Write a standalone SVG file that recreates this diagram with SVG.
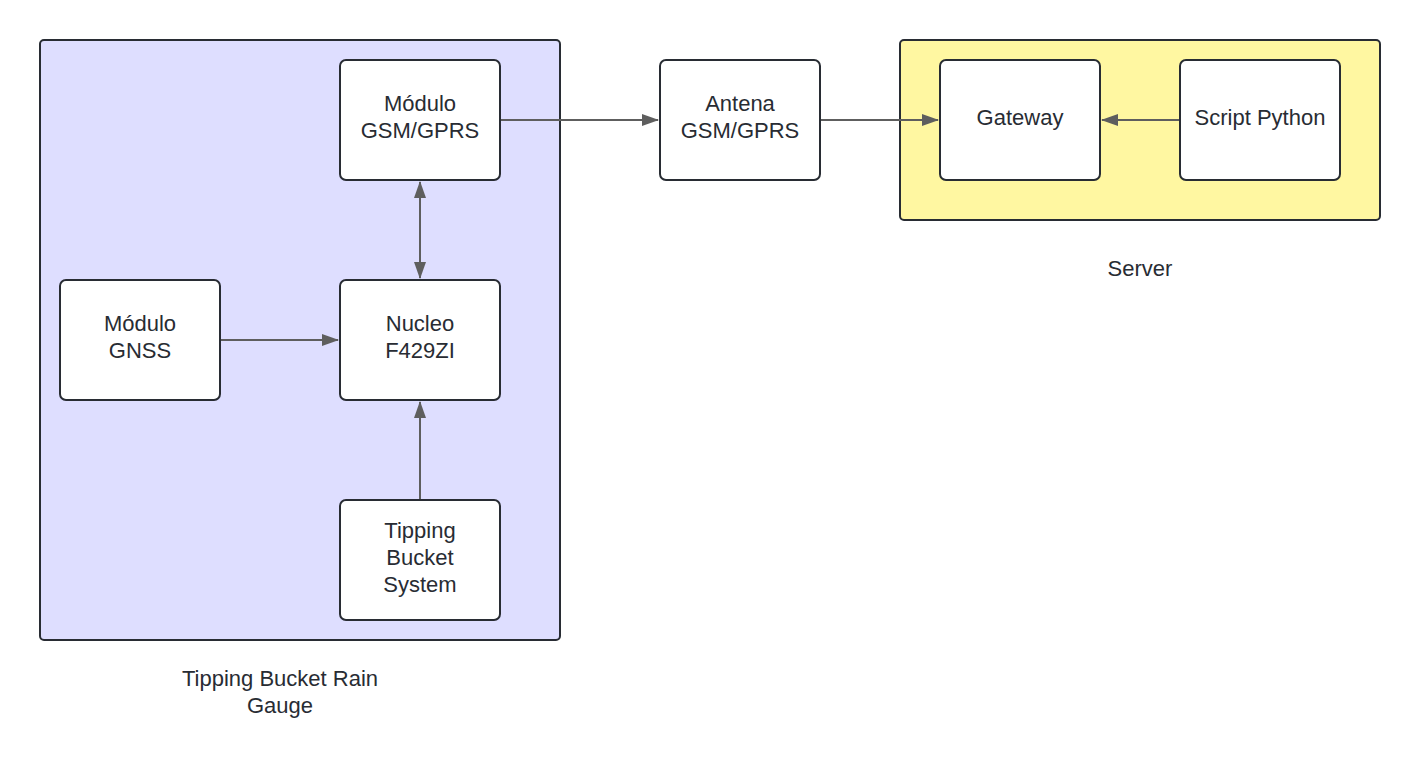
<svg xmlns="http://www.w3.org/2000/svg" width="1420" height="763" viewBox="0 0 1420 763">
<defs>
<marker id="ah" viewBox="0 0 17 12" refX="16" refY="6" markerWidth="17" markerHeight="12" markerUnits="userSpaceOnUse" orient="auto-start-reverse">
<path d="M0,0 L17,6 L0,12 Z" fill="#5e5e5e"/>
</marker>
</defs>
<style>
.box{fill:#ffffff;stroke:#282c33;stroke-width:2}
.t{font-family:"Liberation Sans",Arial,sans-serif;font-size:22px;fill:#282c33;text-anchor:middle}
.c{stroke:#5e5e5e;stroke-width:2;fill:none}
</style>
<rect width="1420" height="763" fill="#ffffff"/>
<g id="rain-gauge">
<rect x="40" y="40" width="520" height="600" rx="4" fill="#dedeff" stroke="#282c33" stroke-width="2"/>
<text class="t" x="280" y="686">Tipping Bucket Rain</text>
<text class="t" x="280" y="713">Gauge</text>
</g>
<g id="server">
<rect x="900" y="40" width="480" height="180" rx="4" fill="#fff7a1" stroke="#282c33" stroke-width="2"/>
<text class="t" x="1140" y="276">Server</text>
</g>
<g id="gsm">
<rect class="box" x="340" y="60" width="160" height="120" rx="6"/>
<text class="t" x="420" y="111">Módulo</text>
<text class="t" x="420" y="138">GSM/GPRS</text>
</g>
<g id="nucleo">
<rect class="box" x="340" y="280" width="160" height="120" rx="6"/>
<text class="t" x="420" y="331">Nucleo</text>
<text class="t" x="420" y="358">F429ZI</text>
</g>
<g id="gnss">
<rect class="box" x="60" y="280" width="160" height="120" rx="6"/>
<text class="t" x="140" y="331">Módulo</text>
<text class="t" x="140" y="358">GNSS</text>
</g>
<g id="tipping">
<rect class="box" x="340" y="500" width="160" height="120" rx="6"/>
<text class="t" x="420" y="538">Tipping</text>
<text class="t" x="420" y="565">Bucket</text>
<text class="t" x="420" y="592">System</text>
</g>
<g id="antena">
<rect class="box" x="660" y="60" width="160" height="120" rx="6"/>
<text class="t" x="740" y="111">Antena</text>
<text class="t" x="740" y="138">GSM/GPRS</text>
</g>
<g id="gateway">
<rect class="box" x="940" y="60" width="160" height="120" rx="6"/>
<text class="t" x="1020" y="125">Gateway</text>
</g>
<g id="script">
<rect class="box" x="1180" y="60" width="160" height="120" rx="6"/>
<text class="t" x="1260" y="125">Script Python</text>
</g>
<g id="connectors">
<line class="c" x1="501" y1="120" x2="658" y2="120" marker-end="url(#ah)"/>
<line class="c" x1="420" y1="182" x2="420" y2="278" marker-start="url(#ah)" marker-end="url(#ah)"/>
<line class="c" x1="221" y1="340" x2="338" y2="340" marker-end="url(#ah)"/>
<line class="c" x1="420" y1="499" x2="420" y2="402" marker-end="url(#ah)"/>
<line class="c" x1="821" y1="120" x2="938" y2="120" marker-end="url(#ah)"/>
<line class="c" x1="1179" y1="120" x2="1102" y2="120" marker-end="url(#ah)"/>
</g>
</svg>
